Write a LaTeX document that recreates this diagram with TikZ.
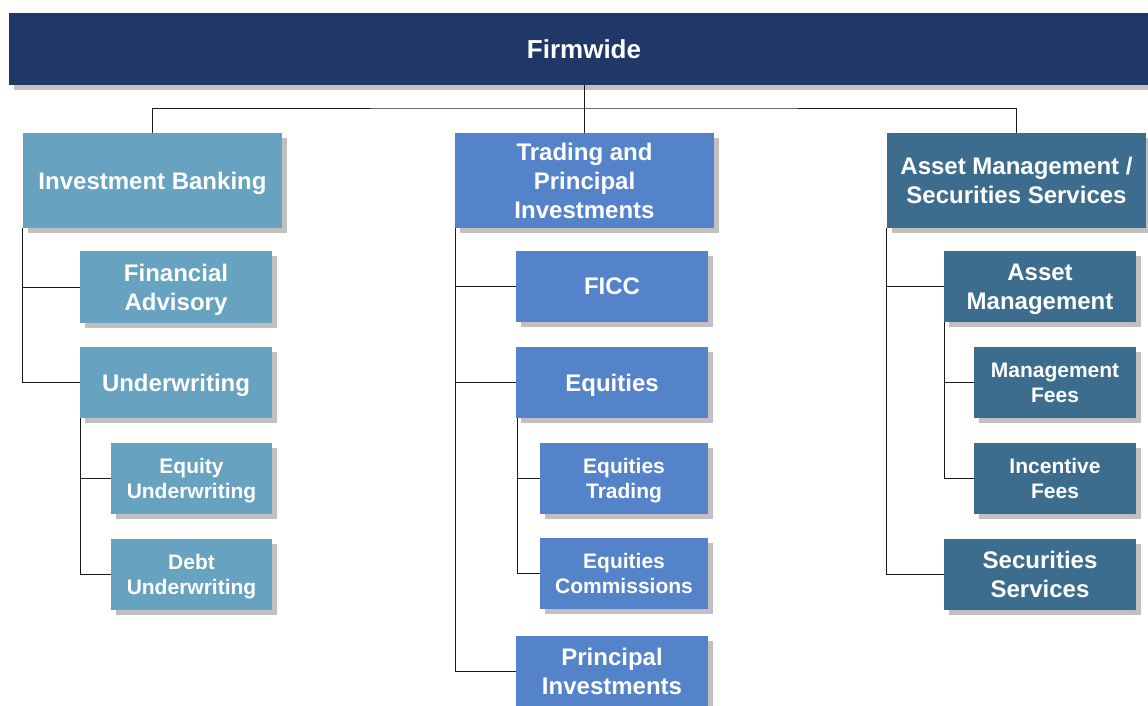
\documentclass[tikz,border=0pt]{standalone}
\usepackage{fontspec}
\setmainfont{Liberation Sans}
\usetikzlibrary{shadows}
\definecolor{navy}{HTML}{1F3868}
\definecolor{ibc}{HTML}{67A2C0}
\definecolor{tpc}{HTML}{5583C9}
\definecolor{amc}{HTML}{3C6D8F}
\definecolor{shd}{HTML}{C0C0C0}
\definecolor{linec}{HTML}{1A1A1A}
\tikzset{
  box/.style={inner sep=0pt, outer sep=0pt, text=white, align=center, text depth=0pt,
    font=\fontsize{24}{29}\selectfont\bfseries,
    drop shadow={shadow xshift=5pt, shadow yshift=-5pt, fill=shd, opacity=1}},
  small/.style={font=\fontsize{21}{25}\selectfont\bfseries},
  conn/.style={draw=linec, line width=1pt}
}
\begin{document}
\begin{tikzpicture}[x=1pt,y=-1pt]
\useasboundingbox (0,0) rectangle (1148,705);
\begin{scope}
\clip (0,0) rectangle (1148,705);
% top
\node[box, fill=navy, minimum width=1150pt, minimum height=72pt, font=\fontsize{26}{31}\selectfont\bfseries] (firm) at (584,49) {Firmwide};
% level 1
\node[box, fill=ibc, minimum width=259pt, minimum height=95pt] (ib) at (152.5,180.5) {Investment Banking};
\node[box, fill=tpc, minimum width=259pt, minimum height=95pt] (tpi) at (584.5,180.5) {Trading and\\Principal\\Investments};
\node[box, fill=amc, minimum width=259pt, minimum height=95pt] (am) at (1016.5,180.5) {Asset Management /\\Securities Services};
% IB children
\node[box, fill=ibc, minimum width=192pt, minimum height=72pt] (fa) at (176,287) {Financial\\Advisory};
\node[box, fill=ibc, minimum width=192pt, minimum height=71pt] (uw) at (176,382.5) {Underwriting};
\node[box, small, fill=ibc, minimum width=161pt, minimum height=71pt] (eu) at (191.5,478.5) {Equity\\Underwriting};
\node[box, small, fill=ibc, minimum width=161pt, minimum height=71pt] (du) at (191.5,574.5) {Debt\\Underwriting};
% TPI children
\node[box, fill=tpc, minimum width=192pt, minimum height=71pt] (ficc) at (612,286.5) {FICC};
\node[box, fill=tpc, minimum width=192pt, minimum height=71pt] (eq) at (612,382.5) {Equities};
\node[box, small, fill=tpc, minimum width=168pt, minimum height=71pt] (et) at (624,478.5) {Equities\\Trading};
\node[box, small, fill=tpc, minimum width=168pt, minimum height=71pt] (ec) at (624,573.5) {Equities\\Commissions};
\node[box, fill=tpc, minimum width=192pt, minimum height=71pt] (pi) at (612,671.5) {Principal\\Investments};
% AM children
\node[box, fill=amc, minimum width=192pt, minimum height=71pt] (amg) at (1040,286.5) {Asset\\Management};
\node[box, small, fill=amc, minimum width=162pt, minimum height=71pt] (mf) at (1055,382.5) {Management\\Fees};
\node[box, small, fill=amc, minimum width=162pt, minimum height=71pt] (inf) at (1055,478.5) {Incentive\\Fees};
\node[box, fill=amc, minimum width=192pt, minimum height=71pt] (ss) at (1040,574.5) {Securities\\Services};
% connectors
\coordinate (bus) at (584,108);
\draw[conn] (firm.south) -- (bus);
\draw[conn] (ib.north) |- (bus) -| (am.north);
\draw[conn] (tpi.north) -- (tpi.north |- bus);
\draw[conn] ([xshift=-0.5pt]ib.south west) |- (fa.west);
\draw[conn] ([xshift=-0.5pt]ib.south west) |- (uw.west);
\draw[conn] (uw.south west) |- (eu.west);
\draw[conn] (uw.south west) |- (du.west);
\draw[conn] (tpi.south west) |- (ficc.west);
\draw[conn] (tpi.south west) |- (eq.west);
\draw[conn] (tpi.south west) |- (pi.west);
\draw[conn] ([xshift=1pt]eq.south west) |- (et.west);
\draw[conn] ([xshift=1pt]eq.south west) |- (ec.west);
\draw[conn] ([xshift=-0.5pt]am.south west) |- (amg.west);
\draw[conn] ([xshift=-0.5pt]am.south west) |- (ss.west);
\draw[conn] (amg.south west) |- (mf.west);
\draw[conn] (amg.south west) |- (inf.west);
\end{scope}
\end{tikzpicture}
\end{document}
